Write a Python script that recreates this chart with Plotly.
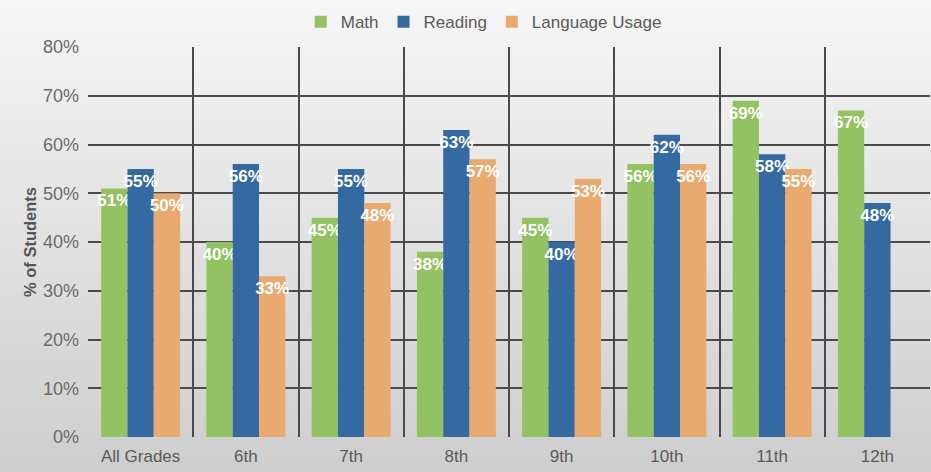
import plotly.graph_objects as go

categories = ["All Grades", "6th", "7th", "8th", "9th", "10th", "11th", "12th"]
math = [51, 40, 45, 38, 45, 56, 69, 67]
reading = [55, 56, 55, 63, 40, 62, 58, 48]
language = [50, 33, 48, 57, 53, 56, 55, None]
y_ticks = [0, 10, 20, 30, 40, 50, 60, 70, 80]
y_ticktext = [f"{v}%" for v in y_ticks]

series = [
    ("Math", math, "#93c263"),
    ("Reading", reading, "#3469a1"),
    ("Language Usage", language, "#e9aa70"),
]

fig = go.Figure()
for name, vals, color in series:
    fig.add_trace(go.Bar(
        name=name, x=categories, y=vals,
        marker=dict(color=color, line=dict(width=0)),
        text=[f"{v}%" if v is not None else "" for v in vals],
        textposition="inside", insidetextanchor="end", textangle=0,
        constraintext="none",
        textfont=dict(color="white", size=17, family="Liberation Sans"),
        texttemplate="<b>%{text}</b>",
        cliponaxis=False,
    ))

# background gradient
W, H = 931, 472
l, r, t, b = 88, 1, 47, 35
pw, ph = W - l - r, H - t - b
shapes = []
n = 60
top_c, bot_c = 246, 206
for i in range(n):
    y0px = H * i / n
    y1px = H * (i + 1) / n
    c = round(top_c + (bot_c - top_c) * (i + 0.5) / n)
    shapes.append(dict(
        type="rect", xref="paper", yref="paper", layer="below",
        x0=-l / pw - 0.01, x1=1 + r / pw + 0.01,
        y0=(H - b - y1px) / ph, y1=(H - b - y0px) / ph + 0.002,
        fillcolor=f"rgb({c},{c},{c})", line=dict(width=0),
    ))

fig.update_layout(
    width=W, height=H,
    margin=dict(l=l, r=r, t=t, b=b, autoexpand=False),
    barmode="group", bargap=0.25, bargroupgap=0,
    paper_bgcolor="rgb(226,226,226)",
    plot_bgcolor="rgba(0,0,0,0)",
    font=dict(family="Liberation Sans", color="#5a5a5a"),
    shapes=shapes,
    showlegend=True,
    legend=dict(orientation="h", x=0.47, xanchor="center", yref="container", y=0.953, yanchor="middle",
                font=dict(size=17, color="#5a5a5a"), itemwidth=30,
                bgcolor="rgba(0,0,0,0)", traceorder="normal"),
    xaxis=dict(
        tickson="boundaries", showgrid=True, gridcolor="#4a4a4a", gridwidth=1.5,
        ticks="", tickfont=dict(size=17, color="#5a5a5a"), showline=False,
        zeroline=False, automargin=False, ticklabelstandoff=7,
    ),
    yaxis=dict(
        range=[0, 80], tickvals=y_ticks, ticktext=y_ticktext,
        showgrid=True, gridcolor="#4a4a4a", gridwidth=1.5, zeroline=False,
        tickfont=dict(size=18, color="#6a6a6a"), ticks="", ticklabelstandoff=8,
        automargin=False,
        title=dict(text="<b>% of Students</b>", font=dict(size=16.5, color="#555555"), standoff=2),
    ),
)

fig.write_html("out.html", config={"displayModeBar": False},
               post_script="document.body.style.margin='0';")
